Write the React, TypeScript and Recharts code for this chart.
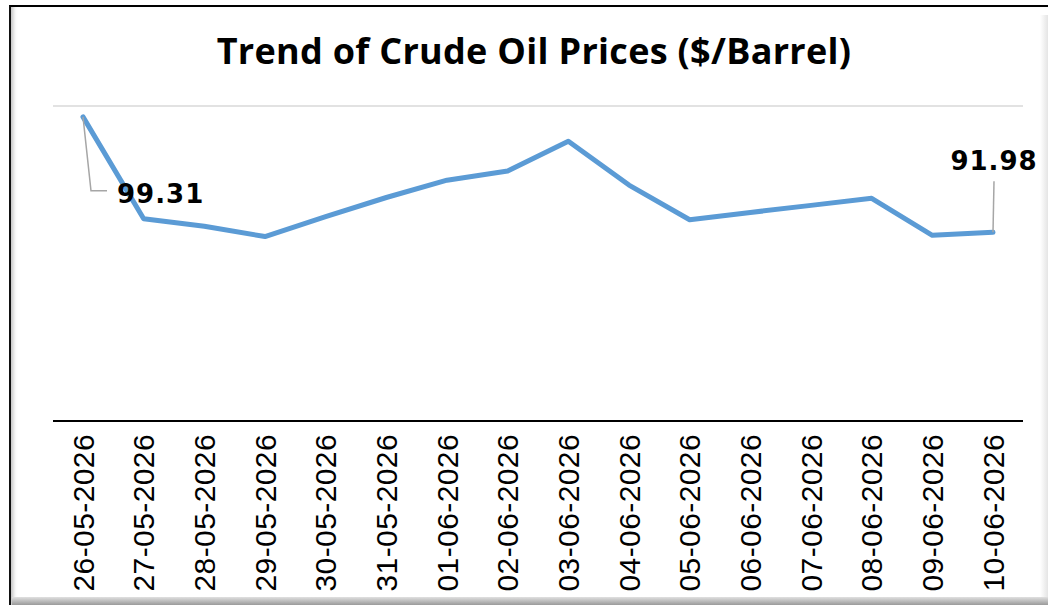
import React from "react"
import { LineChart, Line, XAxis, YAxis, ReferenceLine } from "recharts"

const dates = [
  "26-05-2026", "27-05-2026", "28-05-2026", "29-05-2026", "30-05-2026", "31-05-2026",
  "01-06-2026", "02-06-2026", "03-06-2026", "04-06-2026", "05-06-2026", "06-06-2026",
  "07-06-2026", "08-06-2026", "09-06-2026", "10-06-2026",
]
const prices = [
  99.31, 92.84, 92.36, 91.71, 92.97, 94.19, 95.29, 95.87,
  97.76, 94.98, 92.78, 93.24, 93.69, 94.14, 91.79, 91.98,
]
const yDomain = [80, 100]
const title = "Trend of Crude Oil Prices ($/Barrel)"

const data = dates.map((d, i) => ({ date: d, price: prices[i] }))

function DateTick({ x, y, payload }: any) {
  return (
    <g transform={`translate(${x},${y})`}>
      <text
        transform="rotate(-90)"
        x={-5}
        y={0}
        dy="0.36em"
        textAnchor="end"
        fontFamily="'Liberation Sans', Arial, sans-serif"
        fontSize={30}
        letterSpacing={0.4}
        fill="#000"
      >
        {payload.value}
      </text>
    </g>
  )
}

function PriceLabel({ x, y, index, value }: any) {
  const last = prices.length - 1
  if (index !== 0 && index !== last) return null
  const txt = { fontFamily: "'DejaVu Sans', sans-serif", fontSize: 26, fontWeight: 700, fill: "#000", letterSpacing: 1 }
  if (index === 0) {
    return (
      <g>
        <path d={`M${x},${y} L${x + 8},${y + 74} L${x + 24},${y + 74}`} stroke="#a6a6a6" strokeWidth={1.5} fill="none" />
        <text x={x + 34} y={y + 86} {...txt}>{Number(value).toFixed(2)}</text>
      </g>
    )
  }
  return (
    <g>
      <path d={`M${x},${y} L${x + 1},${y - 51}`} stroke="#a6a6a6" strokeWidth={1.5} fill="none" />
      <text x={x + 1} y={y - 62} textAnchor="middle" {...txt}>{Number(value).toFixed(2)}</text>
    </g>
  )
}

export default function App() {
  return (
    <div style={{ position: "absolute", left: 0, top: 0, width: 1048, height: 605, background: "#fff", overflow: "hidden" }}>
      <div
        style={{
          position: "absolute", left: 9, top: 5, width: 1060, height: 600,
          borderTop: "2px solid #000", borderLeft: "2.5px solid #111",
          boxShadow: "inset 5px 0 4px -3px #bbb",
        }}
      />
      <div style={{ position: "absolute", left: 1040, top: 15, width: 8, height: 590, background: "linear-gradient(to right, #fff, #e4e4e4)" }} />
      <div style={{ position: "absolute", left: 12, top: 597, width: 1036, height: 8, background: "linear-gradient(to bottom, #e0e0e0, #9a9a9a)" }} />
      <div
        style={{
          position: "absolute", left: 0, top: 26, width: 1068, textAlign: "center",
          fontFamily: "'Open Sans', Lato, sans-serif", fontWeight: 700, fontSize: 36, color: "#000",
          letterSpacing: 0.3,
        }}
      >
        {title}
      </div>
      <div style={{ position: "absolute", left: 0, top: 0 }}>
        <LineChart width={1048} height={605} data={data} margin={{ top: 106, right: 25, bottom: 0, left: 53 }}>
          <YAxis hide domain={yDomain} />
          <ReferenceLine y={100} stroke="#d9d9d9" strokeWidth={1.5} />
          <XAxis
            dataKey="date"
            interval={0}
            tickLine={false}
            axisLine={{ stroke: "#000", strokeWidth: 2 }}
            tick={<DateTick />}
            height={184}
            padding={{ left: 30, right: 30 }}
          />
          <Line
            type="linear"
            dataKey="price"
            stroke="#5b9bd5"
            strokeWidth={5}
            strokeLinejoin="round"
            strokeLinecap="round"
            dot={false}
            isAnimationActive={false}
            label={<PriceLabel />}
          />
        </LineChart>
      </div>
    </div>
  )
}
